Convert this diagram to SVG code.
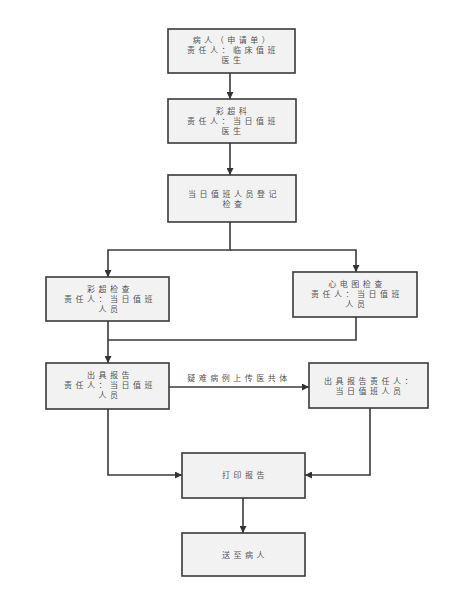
<svg xmlns="http://www.w3.org/2000/svg" width="463" height="596" viewBox="0 0 463 596">
<style>
.box{fill:#f2f2f2;stroke:#3a3a3a;stroke-width:1.6}
.t{font-family:"Noto Sans CJK SC","Liberation Sans",sans-serif;font-size:8px;fill:#555;text-anchor:middle;letter-spacing:3.5px}
.c{fill:none;stroke:#3a3a3a;stroke-width:1.6}
</style>
<defs>
<marker id="ah" viewBox="0 0 10 10" refX="10" refY="5" markerWidth="7" markerHeight="7" markerUnits="userSpaceOnUse" orient="auto">
<path d="M0,0 L10,5 L0,10 z" fill="#333"/>
</marker>
</defs>
<rect width="463" height="596" fill="#fff"/>
<g id="connectors">
<path class="c" d="M230,73 V99" marker-end="url(#ah)"/>
<path class="c" d="M230,143 V175" marker-end="url(#ah)"/>
<path class="c" d="M230,222 V250 H108 V277" marker-end="url(#ah)"/>
<path class="c" d="M230,250 H356 V272" marker-end="url(#ah)"/>
<path class="c" d="M108,321 V363" marker-end="url(#ah)"/>
<path class="c" d="M356,317 V340 H108"/>
<path class="c" d="M169,387 H309" marker-end="url(#ah)"/>
<text class="t" x="239" y="381">疑难病例上传医共体</text>
<path class="c" d="M108,409 V475 H182" marker-end="url(#ah)"/>
<path class="c" d="M370,408 V475 H305" marker-end="url(#ah)"/>
<path class="c" d="M243,498 V533" marker-end="url(#ah)"/>
</g>
<g id="n1"><rect class="box" x="168" y="29" width="127" height="44"/>
<text class="t" x="233" y="43">病人（申请单）</text><text class="t" x="233" y="53">责任人：临床值班</text><text class="t" x="233" y="63">医生</text></g>
<g id="n2"><rect class="box" x="168" y="99" width="128" height="44"/>
<text class="t" x="233" y="114">彩超科</text><text class="t" x="233" y="124">责任人：当日值班</text><text class="t" x="233" y="134">医生</text></g>
<g id="n3"><rect class="box" x="168" y="175" width="128" height="47"/>
<text class="t" x="234" y="197">当日值班人员登记</text><text class="t" x="234" y="207">检查</text></g>
<g id="n4"><rect class="box" x="46" y="277" width="123" height="44"/>
<text class="t" x="110" y="292">彩超检查</text><text class="t" x="110" y="302">责任人：当日值班</text><text class="t" x="110" y="312">人员</text></g>
<g id="n5"><rect class="box" x="293" y="272" width="124" height="45"/>
<text class="t" x="357" y="287">心电图检查</text><text class="t" x="357" y="297">责任人：当日值班</text><text class="t" x="357" y="307">人员</text></g>
<g id="n6"><rect class="box" x="46" y="363" width="123" height="46"/>
<text class="t" x="110" y="378">出具报告</text><text class="t" x="110" y="388">责任人：当日值班</text><text class="t" x="110" y="398">人员</text></g>
<g id="n7"><rect class="box" x="309" y="363" width="119" height="45"/>
<text class="t" x="370" y="384">出具报告责任人：</text><text class="t" x="370" y="394">当日值班人员</text></g>
<g id="n8"><rect class="box" x="182" y="453" width="123" height="45"/>
<text class="t" x="245" y="478">打印报告</text></g>
<g id="n9"><rect class="box" x="182" y="533" width="123" height="43"/>
<text class="t" x="245" y="558">送至病人</text></g>
</svg>
